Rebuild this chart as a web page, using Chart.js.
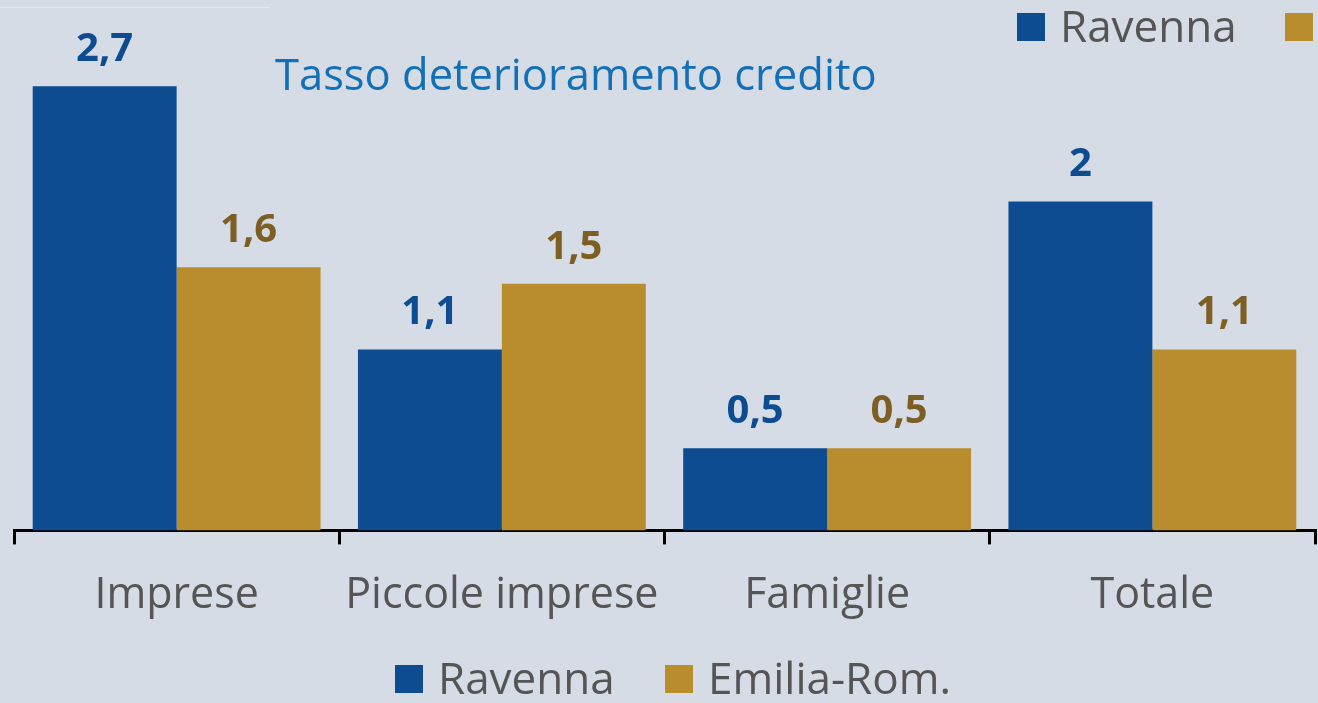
<!DOCTYPE html>
<html><head><meta charset="utf-8">
<script src="https://cdn.jsdelivr.net/npm/chart.js@4.4.1/dist/chart.umd.min.js"></script>
<style>html,body{margin:0;padding:0;background:#d5dce6;}#wrap{width:1318px;height:703px;position:relative;}</style>
</head><body><div id="wrap"><canvas id="c" width="1318" height="703"></canvas></div>
<script>
const categories = ["Imprese", "Piccole imprese", "Famiglie", "Totale"];
const ravenna = [2.7, 1.1, 0.5, 2];
const emiliaRom = [1.6, 1.5, 0.5, 1.1];
const seriesLabels = ["Ravenna", "Emilia-Rom."];
const titleText = "Tasso deterioramento credito";

const BLUE = "#0d4c91", GOLD = "#b98c2e", GOLD_TXT = "#7d5f24", BLUE_TXT = "#0d4c91", GRAY = "#555555";
const FONT = "'Open Sans', sans-serif";

function drawLegend(ctx, chart, x0, yTop, step) {
  let x = x0;
  chart.data.datasets.forEach((ds) => {
    ctx.fillStyle = ds.backgroundColor;
    ctx.fillRect(x, yTop, 28, 28);
    ctx.fillStyle = GRAY;
    ctx.fillText(ds.label, x + 43, yTop + 29);
    x += step;
  });
}

const extras = {
  id: "extras",
  beforeDraw(chart) {
    const ctx = chart.ctx;
    ctx.save();
    ctx.fillStyle = "#d5dce6";
    ctx.fillRect(0, 0, chart.width, chart.height);
    ctx.strokeStyle = "#e3e8ef"; ctx.lineWidth = 1;
    ctx.beginPath(); ctx.moveTo(0, 7.5); ctx.lineTo(270, 7.5); ctx.stroke();
    ctx.restore();
  },
  afterDatasetsDraw(chart) {
    const ctx = chart.ctx;
    ctx.save();
    ctx.font = "bold 40px " + FONT;
    ctx.textAlign = "center";
    ctx.textBaseline = "alphabetic";
    chart.data.datasets.forEach((ds, i) => {
      const meta = chart.getDatasetMeta(i);
      ctx.fillStyle = i === 0 ? BLUE_TXT : GOLD_TXT;
      meta.data.forEach((bar, j) => {
        const v = ds.data[j];
        ctx.fillText(String(v).replace(".", ","), bar.x, bar.y - 25);
      });
    });
    ctx.font = "43.5px " + FONT;
    ctx.fillStyle = "#1270b8";
    ctx.textAlign = "left";
    ctx.fillText(titleText, 275, 90);
    ctx.font = "44px " + FONT;
    drawLegend(ctx, chart, 1017, 13, 268);   // top legend, cut off at right edge
    drawLegend(ctx, chart, 395, 665, 270);   // bottom legend
    ctx.restore();
  }
};

new Chart(document.getElementById("c"), {
  type: "bar",
  data: {
    labels: categories,
    datasets: [
      { label: seriesLabels[0], data: ravenna, backgroundColor: BLUE },
      { label: seriesLabels[1], data: emiliaRom, backgroundColor: GOLD }
    ]
  },
  options: {
    responsive: false,
    animation: false,
    devicePixelRatio: 1,
    layout: { padding: { top: 37, left: 14, right: 3, bottom: 55 } },
    datasets: { bar: { categoryPercentage: 0.885, barPercentage: 1.0 } },
    scales: {
      y: { display: false, min: 0, max: 3 },
      x: {
        offset: true,
        grid: { display: true, drawOnChartArea: false, offset: true, color: "#000", lineWidth: 3, tickLength: 14, tickWidth: 3 },
        border: { display: true, color: "#000", width: 3 },
        ticks: { color: GRAY, font: { family: FONT, size: 43 }, padding: 26, maxRotation: 0 }
      }
    },
    plugins: {
      legend: { display: false },
      tooltip: { enabled: false }
    }
  },
  plugins: [extras]
});
</script></body></html>
